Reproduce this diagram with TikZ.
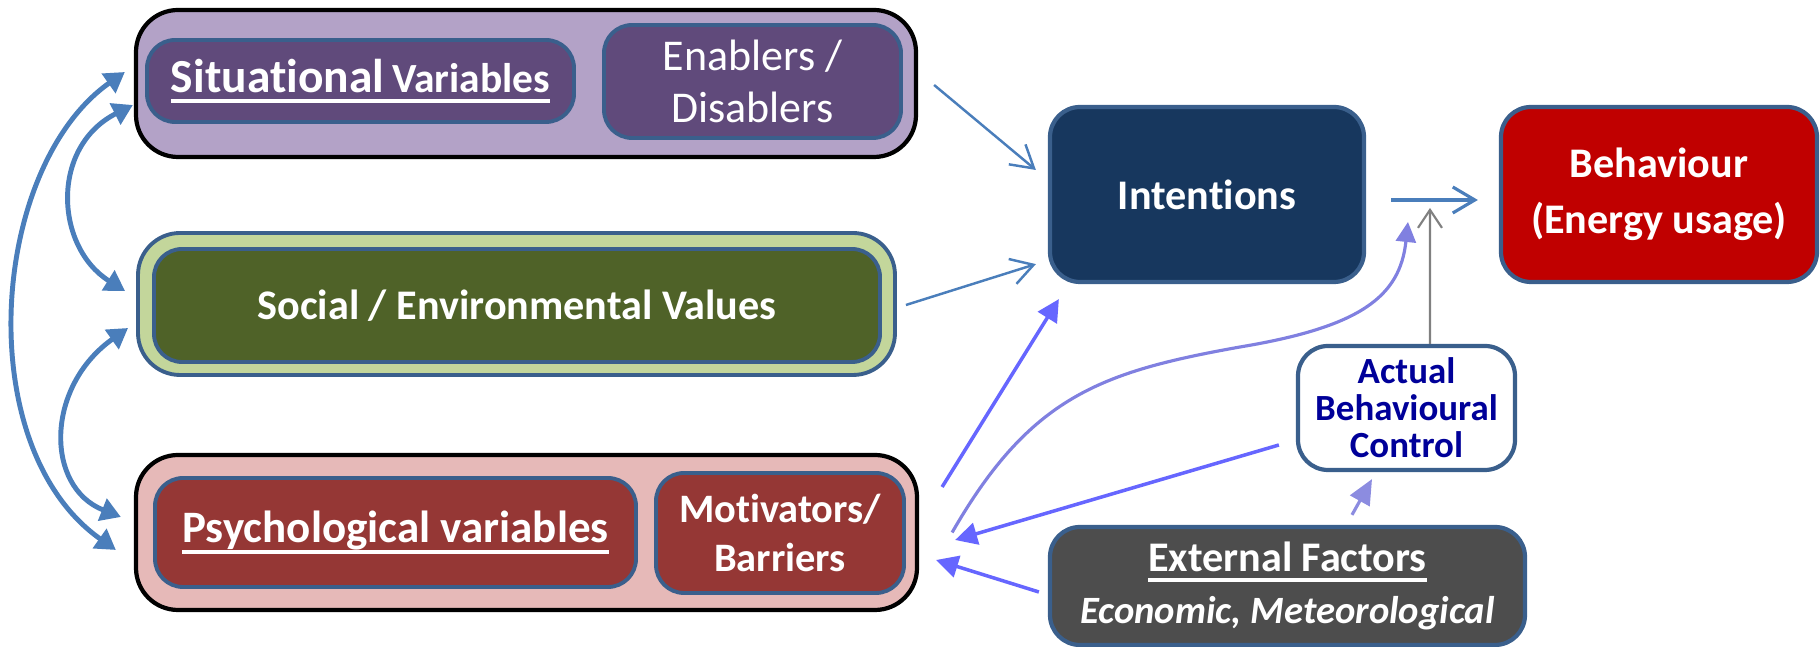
\documentclass[tikz,border=0pt]{standalone}
\usepackage{fontspec}
\setmainfont{Carlito}[Ligatures=NoCommon]
\usetikzlibrary{arrows.meta}

\definecolor{sitLight}{HTML}{B3A2C7}
\definecolor{sitDark}{HTML}{604A7B}
\definecolor{socLight}{HTML}{C3D69B}
\definecolor{socDark}{HTML}{4F6228}
\definecolor{psyLight}{HTML}{E6B9B8}
\definecolor{psyDark}{HTML}{953735}
\definecolor{edgeBlue}{HTML}{3A5F8C}
\definecolor{intentBlue}{HTML}{17375E}
\definecolor{behavRed}{HTML}{C00000}
\definecolor{abcBlue}{HTML}{000099}
\definecolor{extGrey}{HTML}{4D4D4D}
\definecolor{arrowBlue}{HTML}{4A7EBB}
\definecolor{pushBlue}{HTML}{6666FF}
\definecolor{curveBlue}{HTML}{8080E0}
\definecolor{softBlue}{HTML}{8C8CE0}

\newcommand{\thickul}[1]{\setbox0=\hbox{#1}\rlap{\rule[-3pt]{\wd0}{1.1pt}}\box0}

\begin{document}
\begin{tikzpicture}
        % Define styles
        \tikzset{
            outerbox/.style={rectangle, rounded corners=0.42cm, draw=black, line width=1.2pt},
            innerbox/.style={rectangle, rounded corners=0.28cm, draw=edgeBlue, line width=1.1pt, text=white, align=center, inner sep=0pt},
            mainbox/.style={rectangle, rounded corners=0.3cm, draw=edgeBlue, line width=1.2pt, text=white, align=center, inner sep=0pt, font=\bfseries\fontsize{12}{16}\selectfont},
            linkarrow/.style={-{Straight Barb[length=2.2mm,width=2.6mm]}, draw=arrowBlue, line width=0.7pt},
            flowarrow/.style={-{Straight Barb[length=2.2mm,width=2.6mm]}, draw=arrowBlue, line width=0.9pt},
            greyarrow/.style={-{Straight Barb[length=1.8mm,width=2.4mm]}, draw=gray, line width=0.6pt},
            pusharrow/.style={-{Triangle[length=2.2mm,width=2.2mm]}, draw=pushBlue, line width=1pt},
            curvearrow/.style={-{Triangle[length=2mm,width=2mm]}, draw=curveBlue, line width=0.9pt},
            softarrow/.style={-{Triangle[length=2.5mm,width=2.2mm]}, draw=softBlue, line width=0.9pt},
            sidearrow/.style={{Triangle[length=2mm,width=2.3mm]}-{Triangle[length=2mm,width=2.3mm]}, draw=arrowBlue, line width=1.4pt}
        }
        \useasboundingbox (0,0) rectangle (18.2,6.47);

        % Left column
        \node[outerbox, fill=sitLight, minimum width=7.8cm, minimum height=1.47cm] (sitBox) at (5.26,5.635) {};
        \node[innerbox, fill=sitDark, minimum width=4.27cm, minimum height=0.82cm, font=\bfseries] (sitVar) at (3.605,5.66) {\thickul{{\fontsize{13.5}{16}\selectfont Situational} {\fontsize{11.8}{13}\selectfont Variables}}};
        \node[innerbox, fill=sitDark, minimum width=2.97cm, minimum height=1.13cm, font=\fontsize{12.5}{15}\selectfont] (enabler) at (7.525,5.655) {Enablers /\\Disablers};

        \node[outerbox, draw=edgeBlue, line width=1.1pt, fill=socLight, minimum width=7.57cm, minimum height=1.42cm] (socBox) at (5.165,3.43) {};
        \node[innerbox, fill=socDark, minimum width=7.26cm, minimum height=1.13cm, font=\bfseries\fontsize{12}{14}\selectfont] (socVal) at (5.17,3.415) {Social / Environmental Values};

        \node[outerbox, fill=psyLight, minimum width=7.81cm, minimum height=1.55cm] (psyBox) at (5.265,1.145) {};
        \node[innerbox, fill=psyDark, minimum width=4.81cm, minimum height=1.09cm, font=\bfseries\fontsize{12.8}{15}\selectfont] (psyVar) at (3.955,1.145) {\thickul{Psychological variables}};
        \node[innerbox, fill=psyDark, minimum width=2.48cm, minimum height=1.2cm, font=\bfseries\fontsize{11.5}{14}\selectfont] (motiv) at (7.80,1.14) {Motivators/\\Barriers};

        % Right side
        \node[mainbox, fill=intentBlue, minimum width=3.14cm, minimum height=1.75cm] (intent) at (12.07,4.525) {Intentions};
        \node[mainbox, fill=behavRed, minimum width=3.16cm, minimum height=1.75cm] (behav) at (16.59,4.525) {Behaviour\\(Energy usage)};
        \node[mainbox, fill=white, text=abcBlue, minimum width=2.17cm, minimum height=1.24cm, font=\bfseries\fontsize{10.5}{10.5}\selectfont] (actual) at (14.065,2.39) {Actual\\Behavioural\\Control};
        \node[mainbox, fill=extGrey, minimum width=4.75cm, minimum height=1.18cm] (extern) at (12.875,0.61) {\thickul{External Factors}\\[-1pt]{\itshape\fontsize{11}{13}\selectfont Economic, Meteorological}};

        \coordinate (ctrlIn) at (14.30,4.39);
        \coordinate (valIn) at (14.08,4.25);

        % Arrows
        \draw[linkarrow] ([shift={(0.16,-0.015)}]sitBox.east) -- ([shift={(-0.12,0.245)}]intent.west);
        \draw[linkarrow] ([shift={(0.09,-0.01)}]socBox.east) -- ([shift={(-0.12,0.2)}]intent.south west);
        \draw[flowarrow] ([shift={(0.25,-0.055)}]intent.east) -- ([shift={(-0.21,-0.055)}]behav.west);
        \draw[greyarrow] ([xshift=0.235cm]actual.north) -- (ctrlIn);
        \draw[pusharrow] ([shift={(0.23,0.455)}]psyBox.east) -- ([shift={(0.11,-0.15)}]intent.south west);
        \draw[curvearrow] ([shift={(0.33,0)}]psyBox.east) .. controls (10.3,2.5) and (11.0,2.75) .. (12.4,3.0) .. controls (13.6,3.2) and (14.0,3.5) .. (valIn);
        \draw[pusharrow] ([shift={(-0.17,-0.37)}]actual.west) -- ([shift={(0.36,-0.075)}]psyBox.east);
        \draw[pusharrow] ([shift={(-0.09,-0.06)}]extern.west) -- ([shift={(0.17,-0.275)}]psyBox.east);
        \draw[softarrow] ([shift={(0.645,0.1)}]extern.north) -- ([shift={(-0.345,-0.07)}]actual.south);

        % Links between the three groups
        \draw[sidearrow] ([shift={(-0.09,0.115)}]sitBox.west) .. controls (-0.1,4.8) and (-0.3,2.0) .. ([shift={(-0.18,-0.175)}]psyBox.west);
        \draw[sidearrow] ([shift={(-0.01,-0.215)}]sitBox.west) .. controls (0.5,5.0) and (0.55,4.0) .. ([shift={(-0.11,0.13)}]socBox.west);
        \draw[sidearrow] ([shift={(-0.08,-0.24)}]socBox.west) .. controls (0.45,2.6) and (0.45,1.6) .. ([shift={(-0.13,0.155)}]psyBox.west);
    \end{tikzpicture}
\end{document}
